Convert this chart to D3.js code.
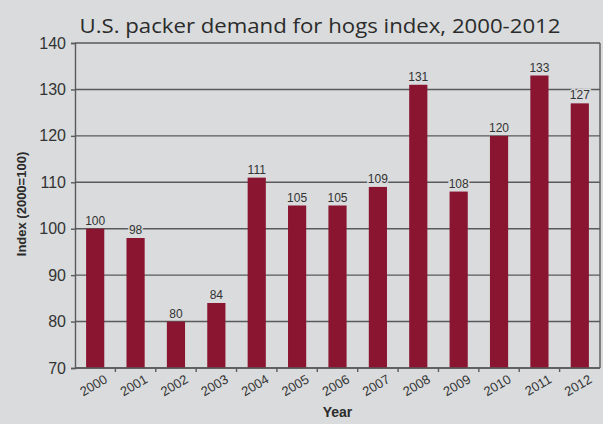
<!DOCTYPE html>
<html>
<head>
<meta charset="utf-8">
<script src="https://cdn.jsdelivr.net/npm/d3@7"></script>
<style>
  html, body { margin: 0; padding: 0; background: #d9dbdc; }
  svg { display: block; }
</style>
</head>
<body>
<div class="bar-chart-panel"></div>
<script>
// packer demand index by year, 2000 = 100
const years = ['2000', '2001', '2002', '2003', '2004', '2005', '2006',
  '2007', '2008', '2009', '2010', '2011', '2012']
const indexValues = [100, 98, 80, 84, 111, 105, 105, 109, 131, 108, 120, 133, 127]
const yTicks = [70, 80, 90, 100, 110, 120, 130, 140]

const width = 603
const height = 424
const margin = { top: 43, right: 3, bottom: 56, left: 75 }
const innerW = width - margin.left - margin.right
const innerH = height - margin.top - margin.bottom

const data = years.map(function (y, i) { return { year: y, value: indexValues[i] } })

const svg = d3.select('.bar-chart-panel').append('svg')
  .attr('width', width)
  .attr('height', height)

svg.append('rect')
  .attr('width', width)
  .attr('height', height)
  .attr('fill', '#d9dbdc')

svg.append('text')
  .attr('x', 320)
  .attr('y', 33)
  .attr('text-anchor', 'middle')
  .attr('font-family', 'Open Sans, sans-serif')
  .attr('font-size', 20)
  .attr('fill', '#2b2b2b')
  .attr('textLength', 481)
  .attr('lengthAdjust', 'spacingAndGlyphs')
  .text('U.S. packer demand for hogs index, 2000-2012')

const g = svg.append('g').attr('transform', 'translate(' + margin.left + ',' + margin.top + ')')

const x = d3.scaleBand()
  .range([0, innerW])
  .paddingInner(0.55)
  .paddingOuter(0.275)
  .domain(years)

// plain band scale for the tick marks that sit between the years
const xEdges = d3.scaleBand().range([0, innerW]).padding(0).domain(years)

const y = d3.scaleLinear()
  .range([innerH, 0])
  .domain([70, 140])

// gridlines
g.append('g')
  .attr('class', 'grid')
  .selectAll('line')
  .data(yTicks)
  .enter().append('line')
    .attr('x1', 0)
    .attr('x2', innerW)
    .attr('y1', function (d) { return y(d) })
    .attr('y2', function (d) { return y(d) })
    .attr('stroke', '#5a5a5a')
    .attr('stroke-width', 1.4)

// bars
g.selectAll('.bar')
  .data(data)
  .enter().append('rect')
    .attr('class', 'bar')
    .attr('x', function (d) { return x(d.year) })
    .attr('width', x.bandwidth())
    .attr('y', function (d) { return y(d.value) })
    .attr('height', function (d) { return innerH - y(d.value) })
    .attr('fill', '#8a1530')

// value labels, with a halo so the gridlines stop short of the text
g.selectAll('.value')
  .data(data)
  .enter().append('text')
    .attr('class', 'value')
    .attr('x', function (d) { return x(d.year) + x.bandwidth() / 2 })
    .attr('y', function (d) { return y(d.value) - 4 })
    .attr('text-anchor', 'middle')
    .attr('font-family', 'Liberation Sans, Arial, sans-serif')
    .attr('font-size', 12)
    .attr('fill', '#333')
    .attr('stroke', '#d9dbdc')
    .attr('stroke-width', 3)
    .attr('paint-order', 'stroke')
    .text(function (d) { return d.value })

// y axis
const yAxis = g.append('g')
  .attr('class', 'axis axis--y')
  .call(d3.axisLeft(y).tickValues(yTicks).tickSize(4).tickPadding(5))
yAxis.select('.domain').attr('stroke', '#5a5a5a').attr('stroke-width', 1.4)
yAxis.selectAll('.tick line').attr('stroke', '#5a5a5a').attr('stroke-width', 1.4)
yAxis.selectAll('.tick text')
  .attr('font-family', 'Liberation Sans, Arial, sans-serif')
  .attr('font-size', 16)
  .attr('fill', '#333')

// right edge of the frame
g.append('line')
  .attr('x1', innerW).attr('x2', innerW)
  .attr('y1', 0).attr('y2', innerH)
  .attr('stroke', '#5a5a5a')
  .attr('stroke-width', 1.4)

// x axis: ticks on the band edges, labels turned under each bar
const xAxis = g.append('g')
  .attr('class', 'axis axis--x')
  .attr('transform', 'translate(0,' + innerH + ')')
xAxis.append('line')
  .attr('x1', 0).attr('x2', innerW)
  .attr('stroke', '#5a5a5a')
  .attr('stroke-width', 1.4)
xAxis.selectAll('.edge')
  .data(years.slice(1))
  .enter().append('line')
    .attr('class', 'edge')
    .attr('x1', function (d) { return xEdges(d) })
    .attr('x2', function (d) { return xEdges(d) })
    .attr('y1', 0)
    .attr('y2', 4)
    .attr('stroke', '#5a5a5a')
    .attr('stroke-width', 1.4)
xAxis.selectAll('.year')
  .data(years)
  .enter().append('text')
    .attr('class', 'year')
    .attr('text-anchor', 'end')
    .attr('transform', function (d) {
      return 'translate(' + (x(d) + x.bandwidth() / 2 + 13) + ',' + 14 + ') rotate(-30)'
    })
    .attr('font-family', 'Liberation Sans, Arial, sans-serif')
    .attr('font-size', 13)
    .attr('fill', '#333')
    .text(function (d) { return d })

svg.append('text')
  .attr('x', margin.left + innerW / 2)
  .attr('y', 417)
  .attr('text-anchor', 'middle')
  .attr('font-family', 'Liberation Sans, Arial, sans-serif')
  .attr('font-weight', 'bold')
  .attr('font-size', 14)
  .attr('fill', '#2b2b2b')
  .text('Year')

svg.append('text')
  .attr('transform', 'translate(26,204) rotate(-90)')
  .attr('text-anchor', 'middle')
  .attr('font-family', 'Liberation Sans, Arial, sans-serif')
  .attr('font-weight', 'bold')
  .attr('font-size', 13)
  .attr('fill', '#2b2b2b')
  .text('Index (2000=100)')
</script>
</body>
</html>
